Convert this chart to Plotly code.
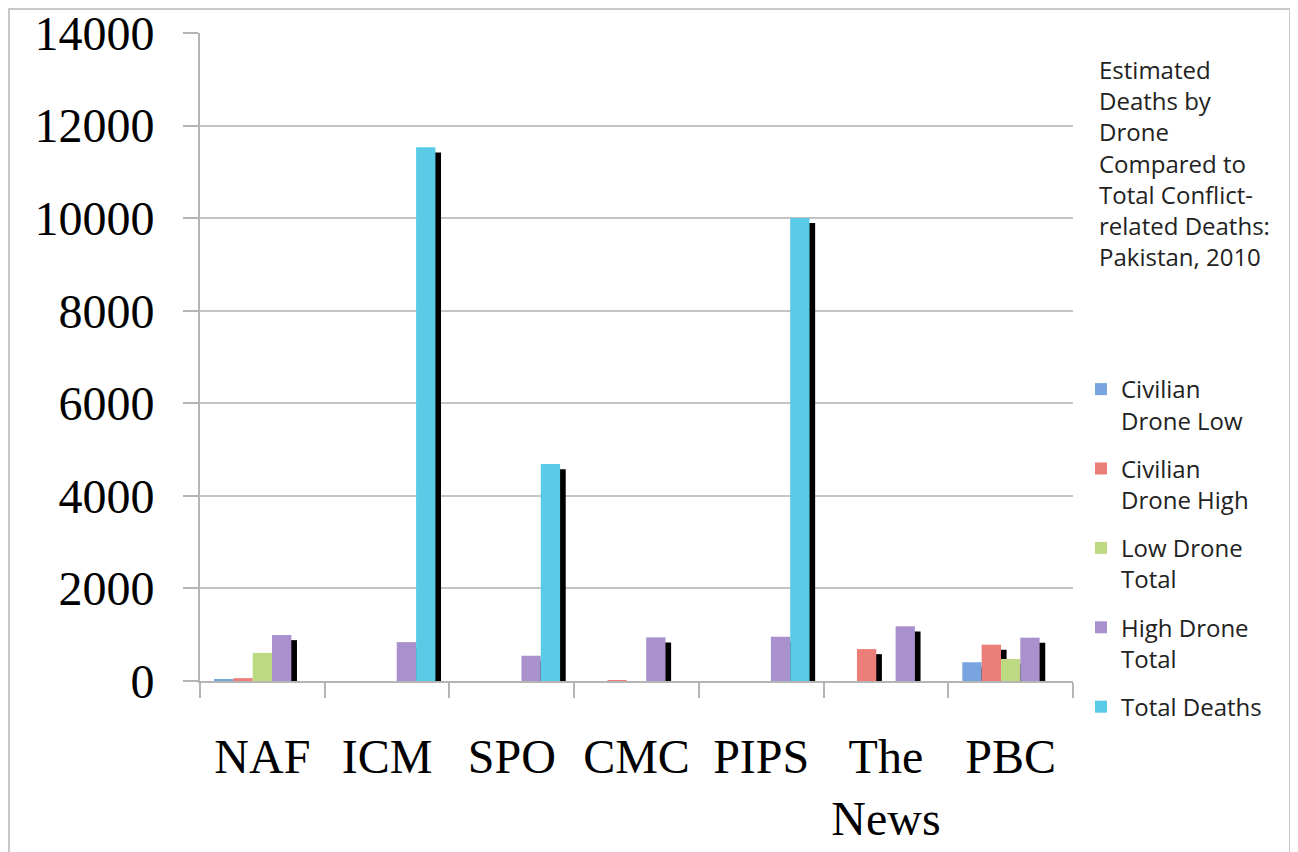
import plotly.graph_objects as go

categories = ["NAF", "ICM", "SPO", "CMC", "PIPS", "The<br>News", "PBC"]
series_names = ["Civilian<br>Drone Low", "Civilian<br>Drone High", "Low Drone<br>Total",
                "High Drone<br>Total", "Total Deaths"]
civilian_low = [35, None, None, None, None, None, 405]
civilian_high = [62, None, None, 20, None, 690, 785]
low_total = [607, None, None, None, None, None, 475]
high_total = [993, 840, 546, 943, 957, 1181, 936]
total_deaths = [None, 11530, 4687, None, 10003, None, None]
y_ticks = [0, 2000, 4000, 6000, 8000, 10000, 12000, 14000]

series_values = [civilian_low, civilian_high, low_total, high_total, total_deaths]
colors = ["#78A5E0", "#EC7E79", "#BDD981", "#A891CD", "#5ACBE7"]

bar_w = 0.155
start = -2.5 * bar_w
shadow_dx = 0.045
shadow_dy = 110

fig = go.Figure()

# shadows first (behind bars)
for i, vals in enumerate(series_values):
    fig.add_trace(go.Bar(
        x=categories, y=vals, base=-shadow_dy,
        offset=start + i * bar_w + shadow_dx, width=bar_w,
        marker=dict(color="#000000", line=dict(width=0)),
        showlegend=False, hoverinfo="skip",
    ))

for i, (name, vals) in enumerate(zip(series_names, series_values)):
    fig.add_trace(go.Bar(
        x=categories, y=vals, name=name,
        offset=start + i * bar_w, width=bar_w,
        marker=dict(color=colors[i], line=dict(width=0)),
        legendgroup=f"g{i}",
    ))

# page body has an 8px margin; work in figure coordinates (screen - 8)
OFF = 8
W, H = 1298 - OFF, 852 - OFF
L, R, T, B = 200 - OFF, 1073 - OFF, 33 - OFF, 681 - OFF
pw, ph = R - L, B - T

def px(xs):
    return (xs - OFF - L) / pw

def py(ys):
    return (B - (ys - OFF)) / ph

fig.update_layout(
    width=W, height=H,
    margin=dict(l=L, r=W - R, t=T, b=H - B, autoexpand=False),
    barmode="overlay",
    paper_bgcolor="white", plot_bgcolor="white",
    showlegend=True,
    legend=dict(
        x=px(1081), y=py(367), xanchor="left", yanchor="top",
        font=dict(family="Open Sans", size=24, color="#222222"),
        valign="top", tracegroupgap=14, itemwidth=30,
        bgcolor="rgba(0,0,0,0)",
    ),
    xaxis=dict(
        type="category", tickson="boundaries", ticks="outside", ticklen=15,
        tickcolor="#B5B5B5", tickwidth=2,
        showline=True, linecolor="#B5B5B5", linewidth=2,
        showgrid=False, automargin=False, ticklabeloverflow="allow",
        tickfont=dict(family="Liberation Serif", size=48, color="#000000"),
        ticklabelstandoff=32,
        range=[-0.5, 6.5],
    ),
    yaxis=dict(
        range=[0, 14000], tickvals=y_ticks, ticktext=[str(v) for v in y_ticks],
        ticks="outside", ticklen=15, tickcolor="#B5B5B5", tickwidth=2,
        showline=True, linecolor="#B5B5B5", linewidth=2,
        showgrid=True, gridcolor="#C4C4C4", gridwidth=1.5,
        zeroline=False, automargin=False, ticklabeloverflow="allow",
        tickfont=dict(family="Liberation Serif", size=48, color="#000000"),
        ticklabelstandoff=19,
    ),
    annotations=[dict(
        text="Estimated<br>Deaths by<br>Drone<br>Compared to<br>Total Conflict-<br>related Deaths:<br>Pakistan, 2010",
        xref="paper", yref="paper", x=px(1097), y=py(51),
        xanchor="left", yanchor="top", align="left", showarrow=False,
        font=dict(family="Open Sans", size=24, color="#222222"),
    )],
    shapes=[dict(
        type="rect", xref="paper", yref="paper",
        x0=px(9), x1=px(1290), y0=py(900), y1=py(9),
        line=dict(color="#C8C8C8", width=2), fillcolor="rgba(0,0,0,0)", layer="below",
    )],
)

fig.write_html("out.html")
